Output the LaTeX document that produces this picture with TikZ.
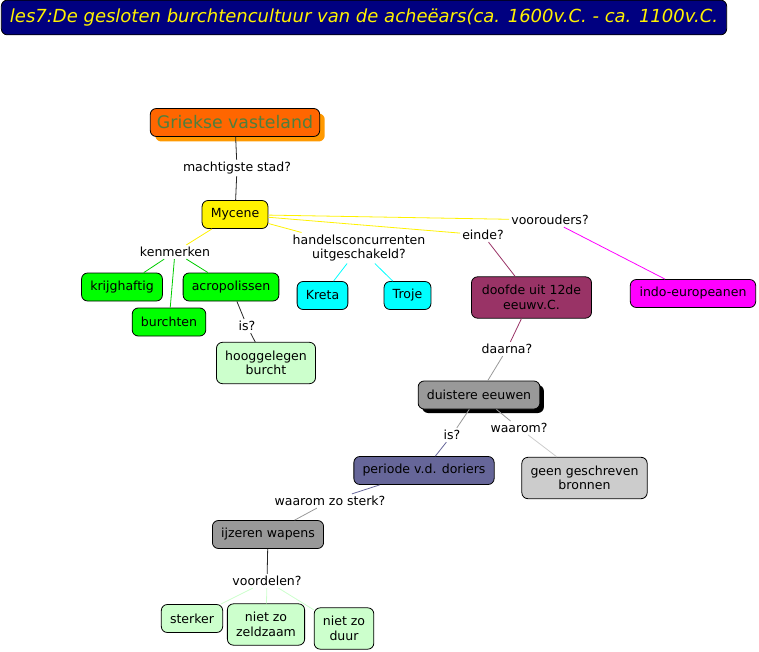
\documentclass[tikz,border=0pt]{standalone}
\usepackage{fontspec}
\setmainfont{DejaVu Sans}
\usetikzlibrary{shadows}
\definecolor{titleblue}{HTML}{000080}
\definecolor{grfill}{HTML}{FF6600}
\definecolor{grshadow}{HTML}{FF9900}
\definecolor{grtext}{HTML}{4E7F3E}
\definecolor{mygreen}{HTML}{00FF00}
\definecolor{lightgreen}{HTML}{CCFFCC}
\definecolor{mycyan}{HTML}{00FFFF}
\definecolor{maroon}{HTML}{993366}
\definecolor{mymagenta}{HTML}{FF00FF}
\definecolor{midgray}{HTML}{999999}
\definecolor{lightgray}{HTML}{CCCCCC}
\definecolor{slate}{HTML}{666699}
\tikzset{
	cbox/.style={draw,fill=#1,rounded corners=4.5pt,line width=0.6pt,
		inner xsep=6.5pt,inner ysep=2pt,minimum height=21pt,align=center},
	tall/.style={minimum height=31pt},
	qlabel/.style={inner sep=1.5pt,align=center},
	ln/.style={line width=0.6pt,draw=#1}
}

\begin{document}
\begin{tikzpicture}[x=0.75pt,y=-0.75pt,font=\fontsize{9.4}{10.8}\selectfont]
   \useasboundingbox (0,0) rectangle (759,652);
   % title
   \node [draw,fill=titleblue,rounded corners=4.5pt,line width=0.6pt,minimum width=544pt,minimum height=26pt,
      text=yellow,font=\fontsize{13.5}{15}\selectfont\itshape] (titel) at (364,17.5)
      {les7:De gesloten burchtencultuur van de acheëars(ca. 1600v.C. - ca. 1100v.C.};
   % top part
   \node [cbox=grfill,text=grtext,font=\fontsize{13}{15}\selectfont,inner xsep=5pt,
      drop shadow={shadow xshift=3.75pt,shadow yshift=-3.75pt,fill=grshadow,opacity=1}] (griek) at (235,122.5) {Griekse vasteland};
   \node [qlabel] (machtig) at (237,168) {machtigste stad?};
   \node [cbox=yellow] (myc) at (235,214.5) {Mycene};
   \node [qlabel] (kenm) at (175,252) {kenmerken};
   \node [cbox=mygreen] (krijg) at (122,287) {krijghaftig};
   \node [cbox=mygreen] (acro) at (231,287) {acropolissen};
   \node [cbox=mygreen] (burcht) at (169,322) {burchten};
   \node [qlabel] (is1) at (247,326) {is?};
   \node [cbox=lightgreen,tall] (hoog) at (266,363) {hooggelegen\\burcht};
   \node [qlabel] (handel) at (359,248) {handelsconcurrenten\\uitgeschakeld?};
   \node [cbox=mycyan] (kreta) at (322.5,295.5) {Kreta};
   \node [cbox=mycyan] (troje) at (407.5,295.5) {Troje};
   \node [qlabel] (einde) at (483,235) {einde?};
   \node [qlabel] (voor) at (550,220) {voorouders?};
   \node [cbox=maroon,tall,minimum width=90pt] (doof) at (531.5,297.5) {doofde uit 12de\\eeuwv.C.};
   \node [cbox=mymagenta,minimum width=94pt] (indo) at (693,293.5) {indo-europeanen};
   % lower part
   \node [qlabel] (daarna) at (507,349) {daarna?};
   \node [cbox=midgray,
      drop shadow={shadow xshift=3pt,shadow yshift=-3pt,fill=black,opacity=1}] (duister) at (479,395) {duistere eeuwen};
   \node [qlabel] (is2) at (452,435) {is?};
   \node [qlabel] (waarom) at (519,428) {waarom?};
   \node [cbox=slate] (dorier) at (424,470.5) {periode v.d. doriers};
   \node [cbox=lightgray,tall] (geen) at (584.5,478) {geen geschreven\\bronnen};
   \node [qlabel] (sterk) at (330,501) {waarom zo sterk?};
   \node [cbox=midgray] (ijzer) at (268,534.5) {ijzeren wapens};
   \node [qlabel] (voordl) at (267,581) {voordelen?};
   \node [cbox=lightgreen] (sterker) at (192,618.5) {sterker};
   \node [cbox=lightgreen,tall] (zeld) at (266,624.5) {niet zo\\zeldzaam};
   \node [cbox=lightgreen,tall] (duur) at (344,628.5) {niet zo\\duur};
   % connectors
   \draw [ln=black!85] (griek) -- (machtig);
   \draw [ln=black!85] (machtig) -- (myc);
   \draw [ln=yellow] (myc) -- (kenm);
   \draw [ln=yellow] (myc) -- (handel);
   \draw [ln=yellow] (myc) -- (einde);
   \draw [ln=yellow] (myc) -- (voor);
   \draw [ln=mygreen!80!black] (kenm) -- (krijg);
   \draw [ln=mygreen!80!black] (kenm) -- (acro);
   \draw [ln=mygreen!80!black] (kenm) -- (burcht);
   \draw [ln=black!85] (acro) -- (is1);
   \draw [ln=black!85] (is1) -- (hoog);
   \draw [ln=mycyan] (handel) -- (kreta);
   \draw [ln=mycyan] (handel) -- (troje);
   \draw [ln=maroon] (einde) -- (doof);
   \draw [ln=mymagenta] (voor) -- (indo);
   \draw [ln=maroon] (doof) -- (daarna);
   \draw [ln=midgray] (daarna) -- (duister);
   \draw [ln=midgray] (duister) -- (is2);
   \draw [ln=slate] (is2) -- (dorier);
   \draw [ln=midgray] (duister) -- (waarom);
   \draw [ln=lightgray] (waarom) -- (geen);
   \draw [ln=slate] (dorier) -- (sterk);
   \draw [ln=midgray] (sterk) -- (ijzer);
   \draw [ln=black!85] (ijzer) -- (voordl);
   \draw [ln=lightgreen] (voordl) -- (sterker);
   \draw [ln=lightgreen] (voordl) -- (zeld);
   \draw [ln=lightgreen] (voordl) -- (duur);
\end{tikzpicture}
\end{document}
